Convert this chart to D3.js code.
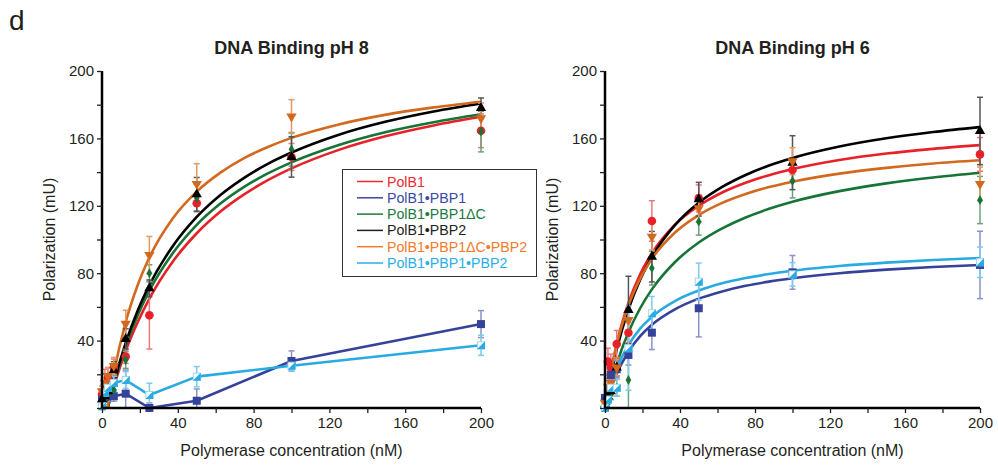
<!DOCTYPE html>
<html><head><meta charset="utf-8">
<script src="https://cdn.jsdelivr.net/npm/d3@7"></script>
<style>
body{margin:0;background:#fff;}
text{font-family:"Liberation Sans",Arial,Helvetica,sans-serif;}
</style></head>
<body><svg id="c" width="998" height="467"></svg>
<script>
// ---------- DATA ----------
const concX = [0, 1.56, 3.125, 6.25, 12.5, 25, 50, 100, 200];
const fitX8 = [3, 6.25, 12.5, 18.75, 25, 37.5, 50, 62.5, 75, 87.5, 100, 125, 150, 175, 200];
const fitX6 = [0, 3.125, 6.25, 12.5, 18.75, 25, 37.5, 50, 62.5, 75, 87.5, 100, 125, 150, 175, 200];
const xTicks = [0, 20, 40, 60, 80, 100, 120, 140, 160, 180, 200];
const xTickLabels = [0, 40, 80, 120, 160, 200];
const yTicks = [0, 20, 40, 60, 80, 100, 120, 140, 160, 180, 200];
const yTickLabels = [40, 80, 120, 160, 200];
const seriesNames = ["PolB1", "PolB1•PBP1", "PolB1•PBP1ΔC", "PolB1•PBP2", "PolB1•PBP1ΔC•PBP2", "PolB1•PBP1•PBP2"];
const titles = ["DNA Binding pH 8", "DNA Binding pH 6"];

// pH 8 measured points
const ph8_PolB1      = [8, 14, 18, 24, 30.5, 55, 121.5, 149, 164.5];
const ph8_PBP1       = [5, 6.5, 7, 7, 8.5, 0, 4.3, 27.9, 49.8];
const ph8_PBP1dC     = [3, 5, 8, 10.7, 28.5, 80, 124.6, 153.5, 164];
const ph8_PBP2       = [5, 7, 10, 22.5, 41, 71, 126.8, 149, 178];
const ph8_PBP1dCPBP2 = [10, 15, 19, 25, 50, 90.8, 133, 173, 172];
const ph8_PBP1PBP2   = [1, 9, 12, 14.8, 16.6, 7.7, 18.6, 25.1, 37.2];
// pH 8 error bars
const ph8_PolB1_err      = [3, 9, 6, 5, 4, 20, 5, 8, 10];
const ph8_PBP1_err       = [2, 2, 3, 3, 14, 3, 7, 6, 8];
const ph8_PBP1dC_err     = [2, 3, 3, 4, 5, 5, 8, 10, 12];
const ph8_PBP2_err       = [2, 3, 3, 5, 6, 5, 10, 12, 6];
const ph8_PBP1dCPBP2_err = [3, 5, 5, 5, 8, 11, 12, 10, 9];
const ph8_PBP1PBP2_err   = [2, 3, 3, 4, 5, 7, 6, 3, 6];
// pH 8 fitted curves
const ph8_PolB1_fit      = [0, 12.8, 33.8, 50.7, 64.9, 87.1, 103.7, 116.6, 126.8, 135.2, 142.2, 153.2, 161.4, 167.7, 172.8];
const ph8_PBP1dC_fit     = [0, 14.2, 36.8, 54.8, 69.6, 92.1, 108.7, 121.3, 131.2, 139.2, 145.8, 156.1, 163.8, 169.6, 174.3];
const ph8_PBP2_fit       = [0, 15, 38.7, 57.6, 72.9, 96.3, 113.4, 126.4, 136.6, 144.9, 151.6, 162.2, 170, 176, 180.7];
const ph8_PBP1dCPBP2_fit = [0, 20.7, 50.9, 72.7, 89.3, 112.7, 128.4, 139.7, 148.3, 154.9, 160.3, 168.3, 174.1, 178.4, 181.8];

// pH 6 measured points
const ph6_PolB1      = [5, 27.5, 24, 38, 44.7, 111, 124.4, 141.2, 150.5];
const ph6_PBP1       = [5.9, 10, 19.6, 23, 31.5, 44.7, 59.2, 80.5, 84.9];
const ph6_PBP1dC     = [1, 3, 8, 12, 16.6, 83, 110.6, 134.7, 123.4];
const ph6_PBP2       = [2, 7, 10, 24, 58.2, 89.8, 123.9, 145.6, 164.4];
const ph6_PBP1dCPBP2 = [3, 12.7, 15, 24, 52.2, 101.7, 118.5, 146.5, 133];
const ph6_PBP1PBP2   = [0, 5, 12, 12, 35.5, 56.2, 75, 79.3, 86.5];
// pH 6 error bars
const ph6_PolB1_err      = [3, 8, 8, 8, 6, 12, 8, 6, 10];
const ph6_PBP1_err       = [2, 3, 3, 5, 6, 10, 17, 10, 20];
const ph6_PBP1dC_err     = [2, 3, 3, 5, 18, 10, 8, 10, 14];
const ph6_PBP2_err       = [2, 2, 2, 5, 20, 15, 10, 16, 20];
const ph6_PBP1dCPBP2_err = [3, 5, 5, 5, 6, 8, 8, 8, 10];
const ph6_PBP1PBP2_err   = [2, 3, 3, 5, 25, 10, 11, 7, 9];
// pH 6 fitted curves
const ph6_PolB1_fit      = [0, 21.4, 38.1, 62.4, 79.4, 91.8, 108.9, 120, 127.9, 133.7, 138.2, 141.8, 147.2, 151, 153.8, 156];
const ph6_PBP1_fit       = [0, 11.4, 20.3, 33.4, 42.6, 49.4, 58.7, 64.9, 69.2, 72.5, 75, 77, 80, 82.1, 83.7, 84.9];
const ph6_PBP1dC_fit     = [0, 14.2, 26.1, 44.9, 59.2, 70.4, 86.8, 98.2, 106.6, 113.1, 118.2, 122.4, 128.7, 133.3, 136.8, 139.6];
const ph6_PBP2_fit       = [0, 19.1, 34.7, 58.6, 76.2, 89.6, 108.8, 121.8, 131.2, 138.3, 143.9, 148.4, 155.2, 160.1, 163.8, 166.7];
const ph6_PBP1dCPBP2_fit = [0, 21.1, 37.4, 60.8, 76.8, 88.5, 104.3, 114.5, 121.7, 127, 131.1, 134.3, 139.1, 142.5, 145.1, 147];
const ph6_PBP1PBP2_fit   = [0, 13.1, 23.1, 37.3, 47.1, 54.1, 63.6, 69.7, 74, 77.1, 79.5, 81.5, 84.3, 86.3, 87.8, 89];

// ---------- STYLE ----------
const colors = ["#e62228", "#35429a", "#167437", "#000000", "#d2691f", "#28aae2"];
const legendColors = ["#ee2a2f", "#3b49a3", "#1b7a3f", "#231f20", "#f37b2d", "#29aee6"];
const errColors = ["#ec7a7c", "#8a93c7", "#6ea07d", "#555555", "#e09a62", "#7fcbee"];
const markers = ["circle", "square", "smallcircle", "triup", "tridown", "halfsquare"];

const svg = d3.select("#c");

svg.append("text").attr("x", 9).attr("y", 30).attr("font-size", 28).attr("fill", "#231f20").text("d");

const panels = [
  { left: 102, right: 481, title: titles[0], fitX: fitX8,
    pts: [ph8_PolB1, ph8_PBP1, ph8_PBP1dC, ph8_PBP2, ph8_PBP1dCPBP2, ph8_PBP1PBP2],
    err: [ph8_PolB1_err, ph8_PBP1_err, ph8_PBP1dC_err, ph8_PBP2_err, ph8_PBP1dCPBP2_err, ph8_PBP1PBP2_err],
    fit: [ph8_PolB1_fit, null, ph8_PBP1dC_fit, ph8_PBP2_fit, ph8_PBP1dCPBP2_fit, null],
    connect: [false, true, false, false, false, true] },
  { left: 605, right: 980, title: titles[1], fitX: fitX6,
    pts: [ph6_PolB1, ph6_PBP1, ph6_PBP1dC, ph6_PBP2, ph6_PBP1dCPBP2, ph6_PBP1PBP2],
    err: [ph6_PolB1_err, ph6_PBP1_err, ph6_PBP1dC_err, ph6_PBP2_err, ph6_PBP1dCPBP2_err, ph6_PBP1PBP2_err],
    fit: [ph6_PolB1_fit, ph6_PBP1_fit, ph6_PBP1dC_fit, ph6_PBP2_fit, ph6_PBP1dCPBP2_fit, ph6_PBP1PBP2_fit],
    connect: [false, false, false, false, false, false] }
];

const yTop = 71, yBottom = 408;

function drawMarker(g, type, cx, cy, color) {
  const m = g.append("g").attr("transform", `translate(${cx},${cy})`);
  if (type === "circle") m.append("circle").attr("r", 4.3).attr("fill", color);
  else if (type === "smallcircle") m.append("path").attr("d", d3.symbol(d3.symbolDiamond, 28)()).attr("fill", color);
  else if (type === "square") m.append("rect").attr("x", -4).attr("y", -4).attr("width", 8).attr("height", 8).attr("fill", color);
  else if (type === "triup") m.append("path").attr("d", d3.symbol(d3.symbolTriangle, 46)()).attr("fill", color);
  else if (type === "tridown") m.append("path").attr("d", d3.symbol(d3.symbolTriangle, 46)()).attr("transform", "rotate(180)").attr("fill", color);
  else if (type === "halfsquare") {
    m.append("rect").attr("x", -3.5).attr("y", -3.5).attr("width", 7).attr("height", 7).attr("fill", "#fff").attr("stroke", "#9fd8f3").attr("stroke-width", 1);
    m.append("path").attr("d", "M4,-4L4,4L-4,4Z").attr("fill", color);
  }
}

panels.forEach((p, pi) => {
  const x = d3.scaleLinear().domain([0, 200]).range([p.left, p.right]);
  const y = d3.scaleLinear().domain([0, 200]).range([yBottom, yTop]);
  const g = svg.append("g");

  // title
  g.append("text").attr("x", (p.left + p.right) / 2).attr("y", 54).attr("text-anchor", "middle")
    .attr("font-size", 18).attr("font-weight", "bold").attr("fill", "#231f20").text(p.title);

  // curves / connecting lines
  const lineFit = d3.line().x((d, i) => x(p.fitX[i])).y(d => y(d)).curve(d3.curveMonotoneX);
  const lineConn = d3.line().x((d, i) => x(concX[i])).y(d => y(d));
  p.pts.forEach((s, si) => {
    if (p.connect[si]) {
      g.append("path").attr("d", lineConn(s)).attr("fill", "none").attr("stroke", colors[si]).attr("stroke-width", 2.6).attr("stroke-linejoin", "round");
    } else if (p.fit[si]) {
      g.append("path").attr("d", lineFit(p.fit[si])).attr("fill", "none").attr("stroke", colors[si]).attr("stroke-width", 2.6);
    }
  });

  // error bars
  p.pts.forEach((s, si) => {
    s.forEach((v, i) => {
      const e = p.err[si][i];
      const cx = x(concX[i]);
      const y1 = y(Math.max(v - e, 0)), y2 = y(v + e);
      const eg = g.append("g").attr("stroke", errColors[si]).attr("stroke-width", 1.5);
      eg.append("line").attr("x1", cx).attr("x2", cx).attr("y1", y1).attr("y2", y2);
      eg.append("line").attr("x1", cx - 3).attr("x2", cx + 3).attr("y1", y2).attr("y2", y2);
      if (v - e > 0) eg.append("line").attr("x1", cx - 3).attr("x2", cx + 3).attr("y1", y1).attr("y2", y1);
    });
  });

  // markers
  p.pts.forEach((s, si) => {
    s.forEach((v, i) => drawMarker(g, markers[si], x(concX[i]), y(v), colors[si]));
  });

  // axes
  const xAxis = d3.axisBottom(x).tickValues(xTicks).tickSize(5).tickPadding(4)
    .tickFormat(d => xTickLabels.includes(d) ? d : "");
  const yAxis = d3.axisLeft(y).tickValues(yTicks).tickSize(5).tickPadding(3)
    .tickFormat(d => yTickLabels.includes(d) ? d : "");
  const gx = g.append("g").attr("transform", `translate(0,${yBottom})`).call(xAxis);
  const gy = g.append("g").attr("transform", `translate(${p.left},0)`).call(yAxis);
  [gx, gy].forEach(a => {
    a.select(".domain").attr("stroke", "#000").attr("stroke-width", 2.5);
    a.selectAll(".tick line").attr("stroke", "#231f20").attr("stroke-width", 1.3);
    a.selectAll(".tick text").attr("font-size", 15).attr("fill", "#231f20")
      .attr("font-family", "'Liberation Sans',Arial,Helvetica,sans-serif");
  });
  gx.select(".domain").attr("d", `M${p.left},0H${p.right}`);
  gy.select(".domain").attr("d", `M0,${yBottom}V${yTop}`);

  // axis titles
  g.append("text").attr("x", (p.left + p.right) / 2).attr("y", 456).attr("text-anchor", "middle")
    .attr("font-size", 16).attr("fill", "#231f20").text("Polymerase concentration (nM)");
  g.append("text").attr("transform", `translate(${p.left - 47},${(yTop + yBottom) / 2}) rotate(-90)`)
    .attr("text-anchor", "middle").attr("font-size", 16).attr("fill", "#231f20").text("Polarization (mU)");
});

// legend
const lg = svg.append("g");
lg.append("rect").attr("x", 342.5).attr("y", 169.5).attr("width", 194).attr("height", 107)
  .attr("fill", "#fff").attr("stroke", "#333").attr("stroke-width", 1);
seriesNames.forEach((n, i) => {
  const yy = 181.5 + i * 16.3;
  lg.append("line").attr("x1", 357).attr("x2", 383).attr("y1", yy).attr("y2", yy)
    .attr("stroke", legendColors[i]).attr("stroke-width", 1.5);
  lg.append("text").attr("x", 387).attr("y", yy + 5).attr("font-size", 14.2).attr("fill", legendColors[i]).text(n);
});
</script></body></html>
